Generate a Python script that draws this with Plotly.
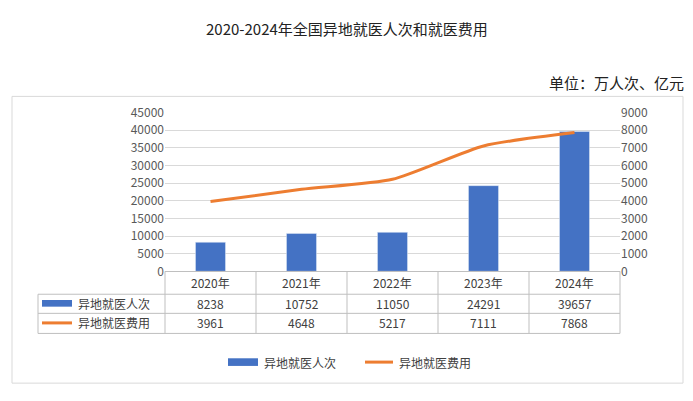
import plotly.graph_objs as go

# page body has an 8px margin, so the figure is made smaller and offset
OFF = 8
W, H = 693, 401
FW, FH = W - 2 * OFF, H - 2 * OFF
years = ['2020年', '2021年', '2022年', '2023年', '2024年']
visits = [8238, 10752, 11050, 24291, 39657]
costs = [3961, 4648, 5217, 7111, 7868]
name_visits = '异地就医人次'
name_costs = '异地就医费用'

BLUE = '#4472C4'
ORANGE = '#ED7D31'
FONT = 'Noto Sans CJK SC, DejaVu Sans'


def px(x):
    return (x - OFF) / FW


def py(y):
    return 1 - (y - OFF) / FH


# plot area in pixels
L, R, T, B = 165, 620, 107, 273

fig = go.Figure()
fig.add_trace(go.Bar(x=years, y=visits, marker_color=BLUE, width=0.33, name=name_visits))
fig.add_trace(go.Scatter(x=years, y=costs, mode='lines', yaxis='y2', name=name_costs,
                         line=dict(color=ORANGE, width=3, shape='spline', smoothing=0.6)))

shapes = []
ann = []
grey = '#BFBFBF'


def text(x, y, s, size=12, color='#404040', xanchor='center', xref='paper'):
    ann.append(dict(x=x, y=py(y), xref=xref, yref='paper', xanchor=xanchor, yanchor='middle',
                    text=s, showarrow=False, font=dict(size=size, color=color)))


# outer border
shapes.append(dict(type='rect', xref='paper', yref='paper', x0=px(12), x1=px(683),
                   y0=py(390), y1=py(90), line=dict(color='#D9D9D9', width=1)))
# table
for y in [297, 317, 338]:
    shapes.append(dict(type='line', xref='paper', yref='paper', x0=px(38), x1=px(R),
                       y0=py(y), y1=py(y), line=dict(color=grey, width=1)))
colw = (R - L) / len(years)
for i in range(len(years) + 1):
    xx = L + i * colw
    shapes.append(dict(type='line', xref='paper', yref='paper', x0=px(xx), x1=px(xx),
                       y0=py(B), y1=py(338), line=dict(color=grey, width=1)))
shapes.append(dict(type='line', xref='paper', yref='paper', x0=px(38), x1=px(38),
                   y0=py(297), y1=py(338), line=dict(color=grey, width=1)))
for i, (yr, v, c) in enumerate(zip(years, visits, costs)):
    text(i, 285, yr, xref='x')
    text(i, 307, str(v), xref='x')
    text(i, 327, str(c), xref='x')
# table legend keys
shapes.append(dict(type='rect', xref='paper', yref='paper', x0=px(42), x1=px(72),
                   y0=py(310), y1=py(303), fillcolor=BLUE, line=dict(width=0)))
shapes.append(dict(type='line', xref='paper', yref='paper', x0=px(42), x1=px(72),
                   y0=py(327), y1=py(327), line=dict(color=ORANGE, width=3)))
text(px(76), 307, name_visits, xanchor='left')
text(px(76), 327, name_costs, xanchor='left')
# bottom legend
shapes.append(dict(type='rect', xref='paper', yref='paper', x0=px(228), x1=px(258),
                   y0=py(372), y1=py(364), fillcolor=BLUE, line=dict(width=0)))
shapes.append(dict(type='line', xref='paper', yref='paper', x0=px(365), x1=px(393),
                   y0=py(368), y1=py(368), line=dict(color=ORANGE, width=3)))
text(px(262), 368, name_visits, xanchor='left')
text(px(397), 368, name_costs, xanchor='left')
# titles
text(px(347), 19, '2020-2024年全国异地就医人次和就医费用', size=15, color='#222222')
text(px(686), 75, '单位：万人次、亿元', size=15, color='#222222', xanchor='right')

fig.update_layout(
    width=FW, height=FH, margin=dict(l=0, r=0, t=0, b=0),
    paper_bgcolor='white', plot_bgcolor='white', showlegend=False,
    font=dict(family=FONT, size=12, color='#595959'),
    xaxis=dict(domain=[px(L), px(R)], showline=True, linecolor=grey, ticks='',
               showticklabels=False),
    yaxis=dict(domain=[py(B), py(T)], range=[0, 45000], dtick=5000, showgrid=True,
               gridcolor='#D9D9D9', zeroline=False, ticks='', tickformat='d'),
    yaxis2=dict(overlaying='y', side='right', range=[0, 9000], dtick=1000, showgrid=False,
                zeroline=False, tickformat='d'),
    shapes=shapes, annotations=ann, bargap=0.6,
)
fig.write_html('out.html')
